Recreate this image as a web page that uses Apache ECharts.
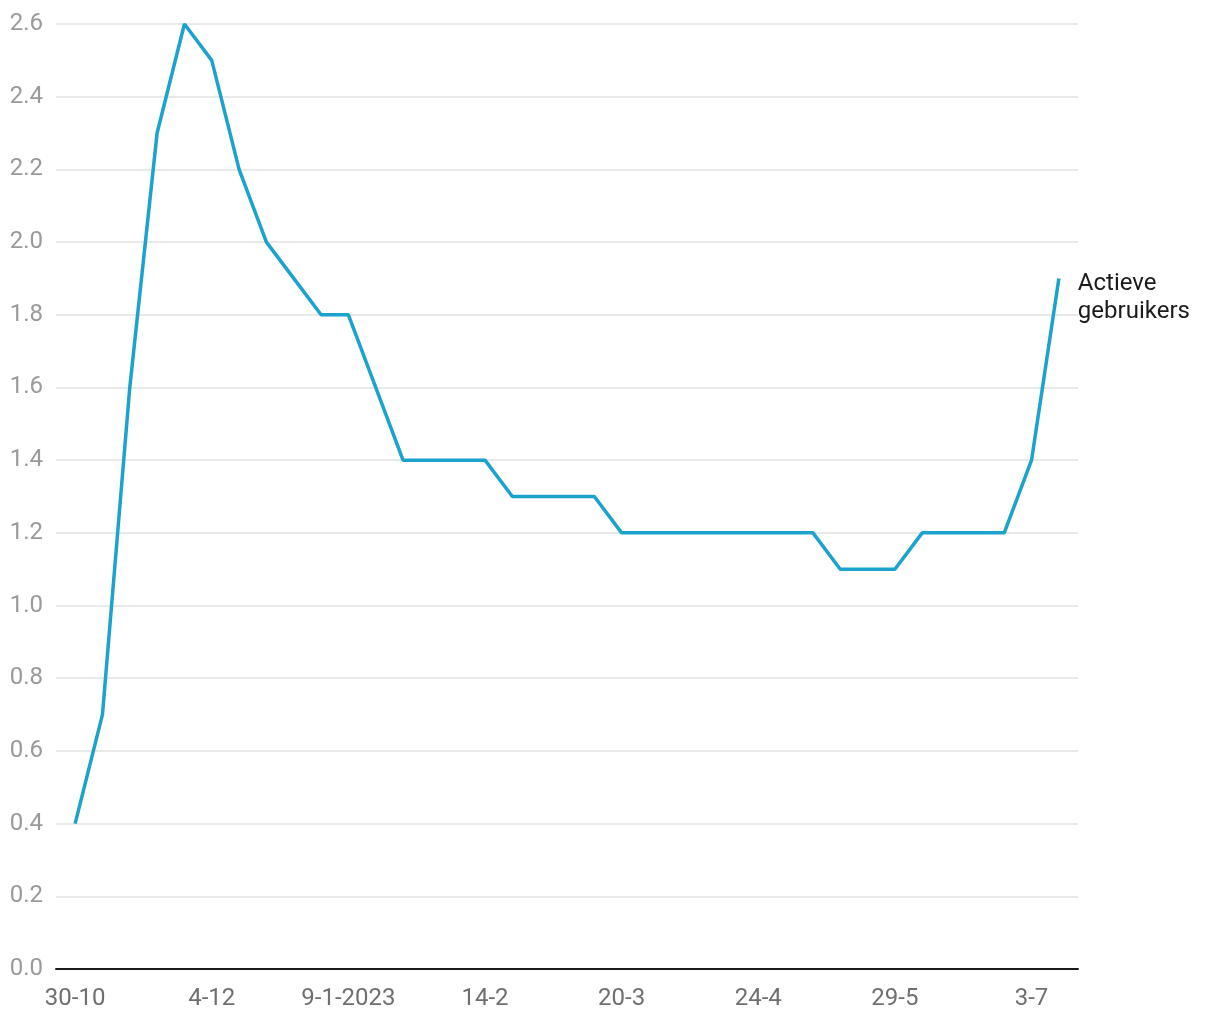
<!DOCTYPE html>
<html>
<head>
<meta charset="utf-8">
<script src="https://cdn.jsdelivr.net/npm/echarts@6/dist/echarts.min.js"></script>
<style>
  html, body { margin: 0; padding: 0; background: #fff; }
  #chart { width: 1220px; height: 1020px; }
</style>
</head>
<body>
<div id="chart"></div>
<script>
// weken (categorieën), alleen elke 5e wordt als label getoond
const weeks = [
  '30-10', '7-11', '14-11', '21-11', '28-11',
  '4-12', '12-12', '19-12', '26-12', '2-1-2023',
  '9-1-2023', '16-1', '23-1', '30-1', '6-2',
  '14-2', '20-2', '27-2', '6-3', '13-3',
  '20-3', '27-3', '3-4', '10-4', '17-4',
  '24-4', '1-5', '8-5', '15-5', '22-5',
  '29-5', '5-6', '12-6', '19-6', '26-6',
  '3-7', '10-7'
];
const activeUsers = [
  0.4, 0.7, 1.6, 2.3, 2.6,
  2.5, 2.2, 2.0, 1.9, 1.8,
  1.8, 1.6, 1.4, 1.4, 1.4,
  1.4, 1.3, 1.3, 1.3, 1.3,
  1.2, 1.2, 1.2, 1.2, 1.2,
  1.2, 1.2, 1.2, 1.1, 1.1,
  1.1, 1.2, 1.2, 1.2, 1.2,
  1.4, 1.9
];
const labelIdx = [0, 5, 10, 15, 20, 25, 30, 35];
const seriesName = 'Actieve\ngebruikers';

const myChart = echarts.init(document.getElementById('chart'));

const option = {
  backgroundColor: '#ffffff',
  animation: false,
  textStyle: { fontFamily: 'Roboto' },
  grid: {
    left: 56,
    right: 142,
    top: 24,
    bottom: 51
  },
  xAxis: {
    type: 'value',
    min: -0.7,
    max: weeks.length - 1 + 0.7,
    splitLine: { show: false },
    axisTick: { show: false },
    axisLine: { show: true, onZero: false, lineStyle: { color: '#1a1a1a', width: 2 } },
    axisLabel: {
      customValues: labelIdx,
      formatter: v => weeks[Math.round(v)] || '',
      color: '#6f6f6f',
      fontSize: 24,
      margin: 18
    }
  },
  yAxis: {
    type: 'value',
    min: 0,
    max: 2.6,
    interval: 0.2,
    axisLine: { show: false },
    axisTick: { show: false },
    splitLine: { lineStyle: { color: '#e2e2e2', width: 1.5 } },
    axisLabel: {
      formatter: v => v.toFixed(1),
      color: '#9a9a9a',
      fontSize: 24,
      margin: 13
    }
  },
  series: [
    {
      name: seriesName,
      type: 'line',
      data: activeUsers.map((v, i) => [i, v]),
      showSymbol: false,
      lineStyle: { color: '#1ba2cd', width: 3.5 },
      itemStyle: { color: '#1ba2cd' },
      endLabel: {
        show: true,
        formatter: seriesName,
        color: '#1a1a1a',
        fontSize: 24,
        lineHeight: 28,
        distance: 19,
        offset: [0, 20],
        align: 'left'
      }
    }
  ]
};

myChart.setOption(option);
</script>
</body>
</html>
